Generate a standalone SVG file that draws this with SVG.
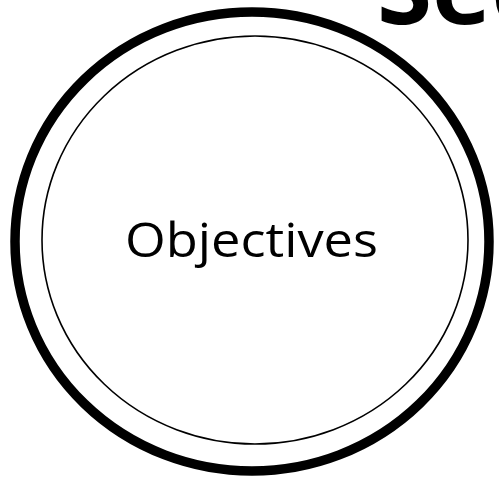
<svg xmlns="http://www.w3.org/2000/svg" width="499" height="479" viewBox="0 0 499 479">
<style>
.outer{fill:none;stroke:#000;stroke-width:9.5}
.inner{fill:#fff;stroke:#000;stroke-width:1.6}
.lbl{font-family:"Open Sans","Liberation Sans",sans-serif;font-size:48px;fill:#000}
.title{font-family:"Open Sans","Liberation Sans",sans-serif;font-weight:700;font-size:100px;fill:#000}
</style>
<rect width="499" height="479" fill="#fff"/>
<g id="title"><text class="title" x="377" y="24">Sec</text></g>
<g id="outer-ring"><ellipse class="outer" cx="252" cy="241.5" rx="237" ry="229.5"/></g>
<g id="objectives">
<ellipse class="inner" cx="255" cy="240" rx="213" ry="204"/>
<text class="lbl" x="125" y="257" textLength="253" lengthAdjust="spacingAndGlyphs">Objectives</text>
</g>
<g id="connectors"/>
</svg>
